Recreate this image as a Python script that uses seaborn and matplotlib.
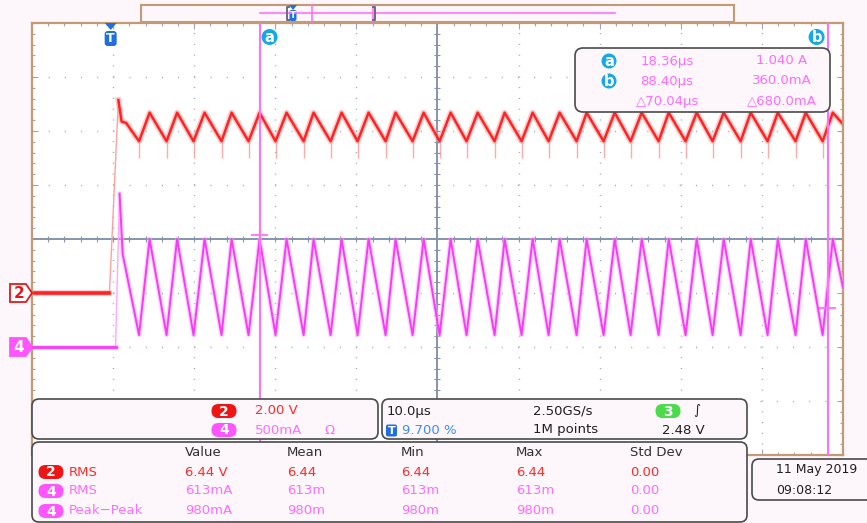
import matplotlib
matplotlib.use("Agg")
import pandas as pd
import matplotlib.pyplot as plt
import seaborn as sns
from matplotlib.patches import FancyBboxPatch, Rectangle, Polygon, Circle

plt.rcParams['font.family'] = ['DejaVu Sans']
plt.rcParams['lines.scale_dashes'] = False

# screen window, µs (10 µs/div, trigger at 9.7 % of the record)
t_left = -9.7
t_right = 90.3

# ripple corners, µs
peak_t = [4.80, 8.19, 11.58, 14.91, 18.36, 21.69, 25.02, 28.47, 31.80, 35.13,
          38.59, 41.92, 45.25, 48.58, 52.03, 55.36, 58.69, 62.15, 65.48, 68.81,
          72.26, 75.59, 78.92, 82.26, 85.71, 89.04]
valley_t = [3.50, 6.89, 10.22, 13.67, 17.00, 20.33, 23.79, 27.12, 30.45, 33.90,
            37.23, 40.56, 43.88, 47.34, 50.67, 54.00, 57.45, 60.78, 64.11, 67.56,
            70.89, 74.22, 77.68, 81.00, 84.45, 87.79]

# channel 2 (V, 2.00 V/div)
ch2_start_t = [-9.7, -0.15, 0.95, 1.35, 1.9]
ch2_start_v = [0.0, 0.0, 7.15, 6.35, 6.30]
ch2_peak_v = 6.68
ch2_valley_v = 5.62
ch2_spike_v = 5.0
ch2_end_v = 6.25

# channel 4 (A, 500 mA/div)
ch4_start_t = [-9.7, 0.6, 1.1, 1.48]
ch4_start_a = [0.0, 0.0, 1.42, 0.86]
ch4_peak_a = 1.0
ch4_valley_a = 0.11
ch4_end_a = 0.55

# cursors
cursor_t = [18.36, 88.40]
cursor_a = [1.040, 0.360]

meas_head = ['Value', 'Mean', 'Min', 'Max', 'Std Dev']
meas_rows = [
    ('2', 'RMS', ['6.44 V', '6.44', '6.44', '6.44', '0.00']),
    ('4', 'RMS', ['613mA', '613m', '613m', '613m', '0.00']),
    ('4', 'Peak\u2212Peak', ['980mA', '980m', '980m', '980m', '0.00']),
]

BG = '#fdf6fa'
TAN = '#c49a74'
GRID = '#9aa6bf'
AXC = '#8694ad'
RED = '#ff2424'
RED_HALO = '#ffa0a0'
MAG = '#f63cf6'
MAG_HALO = '#ffa6ff'
CUR = '#ff70ff'
CYAN = '#12a9e6'
CH2_TXT = '#ff2a2a'
CH4_TXT = '#ff6cff'


def trace(start_t, start_y, peak_y, valley_y, end_y):
    ts = list(start_t)
    ys = list(start_y)
    for tv, tp in zip(valley_t, peak_t):
        ts += [tv, tp]
        ys += [valley_y, peak_y]
    ts.append(t_right)
    ys.append(end_y)
    return pd.DataFrame({'t': ts, 'y': ys})


ch2 = trace(ch2_start_t, ch2_start_v, ch2_peak_v, ch2_valley_v, ch2_end_v)
ch4 = trace(ch4_start_t, ch4_start_a, ch4_peak_a, ch4_valley_a, ch4_end_a)

W, H = 867, 523
fig = plt.figure(figsize=(W / 100, H / 100), dpi=100, facecolor=BG)
ax = fig.add_axes([32 / W, (H - 455) / H, 811 / W, 432 / H])
ax.set_facecolor('white')
ax_a = ax.twinx()


def draw_trace(df, axis, core, halo, core_lw, halo_lw, base_lw):
    # flat part (noisy band), fast faint edge, then the ripple
    base, edge, rest = df.iloc[:2], df.iloc[1:3], df.iloc[2:]
    sns.lineplot(data=edge, x='t', y='y', ax=axis, color=halo, lw=1.0,
                 estimator=None, sort=False)
    sns.lineplot(data=base, x='t', y='y', ax=axis, color=halo, lw=base_lw + 1.5,
                 alpha=0.6, estimator=None, sort=False)
    sns.lineplot(data=base, x='t', y='y', ax=axis, color=core, lw=base_lw,
                 estimator=None, sort=False)
    sns.lineplot(data=rest, x='t', y='y', ax=axis, color=halo, lw=halo_lw,
                 alpha=0.55, estimator=None, sort=False)
    sns.lineplot(data=rest, x='t', y='y', ax=axis, color=core, lw=core_lw,
                 estimator=None, sort=False)


ax.vlines(valley_t, ch2_spike_v, ch2_valley_v, color=RED_HALO, lw=1.0, alpha=0.9)
draw_trace(ch2, ax, RED, RED_HALO, 1.8, 4.2, 2.6)
draw_trace(ch4, ax_a, MAG, MAG_HALO, 1.4, 3.2, 2.0)

ax.set_xlim(t_left, t_right)
ax.set_ylim(-6, 10)
ax_a.set_ylim(-1, 3)
for a in (ax, ax_a):
    a.set_xlabel('')
    a.set_ylabel('')

# graticule
ax.set_xticks([t_left + 10 * k for k in range(11)])
ax.set_xticks([t_left + 2 * k for k in range(51)], minor=True)
ax.set_yticks(range(-6, 11, 2))
ax.set_yticks([-6 + 0.4 * k for k in range(41)], minor=True)
ax.tick_params(which='both', direction='in', top=True, right=True, left=True,
               bottom=True, labelleft=False, labelbottom=False, color=GRID,
               width=0.8)
ax.tick_params(which='major', length=4)
ax.tick_params(which='minor', length=2.5)
ax.xaxis.grid(True, which='major', color=GRID, lw=1.0, linestyle=(0, (0.75, 7.03)))
ax.yaxis.grid(True, which='major', color=GRID, lw=1.0, linestyle=(0, (0.75, 10.9)))
ax.set_axisbelow(True)
t_mid = (t_left + t_right) / 2
ax.axhline(2, color=AXC, lw=1.4, zorder=1)
ax.axvline(t_mid, color=AXC, lw=1.4, zorder=1)
ax.plot([t_left + 2 * k for k in range(51)], [2] * 51, '|', ms=5, color=AXC, mew=0.8)
ax.plot([t_mid] * 41, [-6 + 0.4 * k for k in range(41)], '_', ms=5, color=AXC, mew=0.8)
for s in ax.spines.values():
    s.set_color(TAN)
    s.set_linewidth(1.6)
for s in ax_a.spines.values():
    s.set_visible(False)
ax_a.set_yticks([])

# cursors
for tc, ac in zip(cursor_t, cursor_a):
    ax_a.axvline(tc, color=CUR, lw=1.5, zorder=5)
    ax_a.hlines(ac, tc - 1.0, tc + 1.0, color=CUR, lw=1.3, zorder=5)

# overlay in pixel units for the scope furniture
ov = fig.add_axes([0, 0, 1, 1], zorder=5)
ov.set_xlim(0, W)
ov.set_ylim(H, 0)
ov.axis('off')
ov.patch.set_alpha(0)


def to_px(axis, x, y):
    dx, dy = axis.transData.transform((x, y))
    return dx, H - dy


def circle_label(x, y, letter, r=8):
    ov.add_patch(Circle((x, y), r, fc=CYAN, ec='none'))
    ov.text(x, y + 0.5, letter, color='white', ha='center', va='center',
            fontsize=10.5, fontweight='bold')


def pill(x, y, label, color, w=25, h=14):
    ov.add_patch(FancyBboxPatch((x - w / 2, y - h / 2), w, h,
                                boxstyle=f'round,pad=0,rounding_size={h / 2}',
                                fc=color, ec='none'))
    ov.text(x, y + 0.5, label, color='white', ha='center', va='center',
            fontsize=10, fontweight='bold')


def panel(x, y, w, h, r=7):
    ov.add_patch(FancyBboxPatch((x, y), w, h, boxstyle=f'round,pad=0,rounding_size={r}',
                                fc=BG, ec='#4a4a4a', lw=1.2))


# cursor tags and trigger marker
for tc, letter, dx in zip(cursor_t, ['a', 'b'], [10, -11]):
    px, _ = to_px(ax, tc, 0)
    circle_label(px + dx, 37, letter)
tx, _ = to_px(ax, 0, 0)
ov.add_patch(Polygon([(tx - 6, 23), (tx + 6, 23), (tx, 30)], fc='#1f6fe0', ec='none'))
ov.add_patch(FancyBboxPatch((tx - 6, 31), 12, 15, boxstyle='round,pad=0,rounding_size=3',
                            fc='#1f6fe0', ec='none'))
ov.text(tx, 39, 'T', color='white', ha='center', va='center', fontsize=9, fontweight='bold')

# channel ground markers
for axis, txt, fill, edge, tcol in [(ax, '2', 'white', '#e81818', '#e81818'),
                                     (ax_a, '4', '#ff55ff', '#ff55ff', 'white')]:
    _, gy = to_px(axis, t_left, 0)
    ov.add_patch(Polygon([(10, gy - 9), (26, gy - 9), (32, gy), (26, gy + 9), (10, gy + 9)],
                         fc=fill, ec=edge, lw=1.3))
    ov.text(19, gy + 0.5, txt, color=tcol, ha='center', va='center', fontsize=11,
            fontweight='bold')

# record overview bar
ov.add_patch(Rectangle((141, 5), 593, 17, fc=BG, ec=TAN, lw=1.5))
ov.plot([260, 615], [13, 13], color=CUR, lw=1.2)
ov.plot([311.5, 311.5], [5, 22], color=CUR, lw=1.2)
ov.plot([372.5, 372.5], [5, 22], color=CUR, lw=1.2)
ov.plot([289, 287, 287, 289], [7, 7, 20, 20], color='#6a6a7a', lw=1.4)
ov.plot([373, 375, 375, 373], [7, 7, 20, 20], color='#6a6a7a', lw=1.4)
ov.add_patch(Polygon([(289, 5), (297, 5), (293, 10)], fc='#1f6fe0', ec='none'))
ov.add_patch(FancyBboxPatch((289.5, 10), 7, 11, boxstyle='round,pad=0,rounding_size=2',
                            fc='#1f6fe0', ec='none'))
ov.text(293, 15.5, 'T', color='white', ha='center', va='center', fontsize=6.5,
        fontweight='bold')

# cursor readout
panel(575, 48, 255, 64, r=8)
circle_label(609, 61, 'a', r=7.5)
circle_label(609, 81, 'b', r=7.5)
fs = 9.5
ov.text(667, 61, f'{cursor_t[0]:.2f}\u00b5s', color=CH4_TXT, ha='center', va='center', fontsize=fs)
ov.text(667, 81, f'{cursor_t[1]:.2f}\u00b5s', color=CH4_TXT, ha='center', va='center', fontsize=fs)
ov.text(668, 101, f'\u25b3{cursor_t[1] - cursor_t[0]:.2f}\u00b5s', color=CH4_TXT,
        ha='center', va='center', fontsize=fs)
ov.text(782, 61, '1.040 A', color=CH4_TXT, ha='center', va='center', fontsize=fs)
ov.text(782, 81, '360.0mA', color=CH4_TXT, ha='center', va='center', fontsize=fs)
ov.text(782, 101, '\u25b3680.0mA', color=CH4_TXT, ha='center', va='center', fontsize=fs)

# vertical settings panel
panel(32, 399, 346, 40)
pill(224, 411, '2', '#ee1515')
pill(224, 430, '4', '#ff55ff')
ov.text(255, 411, '2.00 V', color=CH2_TXT, ha='left', va='center', fontsize=fs)
ov.text(255, 430, '500mA', color=CH4_TXT, ha='left', va='center', fontsize=fs)
ov.text(330, 430, '\u03a9', color=CH4_TXT, ha='center', va='center', fontsize=fs)

# horizontal / trigger panel
panel(382, 399, 365, 40)
ov.text(387, 411, '10.0\u00b5s', color='#202020', ha='left', va='center', fontsize=fs)
ov.add_patch(FancyBboxPatch((386, 424.5), 11, 12, boxstyle='round,pad=0,rounding_size=2',
                            fc='#1f6fe0', ec='none'))
ov.text(391.5, 431, 'T', color='white', ha='center', va='center', fontsize=8, fontweight='bold')
ov.text(402, 430, '9.700 %', color='#3a8ff0', ha='left', va='center', fontsize=fs)
ov.text(533, 411, '2.50GS/s', color='#202020', ha='left', va='center', fontsize=fs)
ov.text(533, 430, '1M points', color='#202020', ha='left', va='center', fontsize=fs)
pill(668, 411, '3', '#4bdc4b')
ov.text(697, 411, '\u222b', color='#202020', ha='center', va='center', fontsize=fs)
ov.text(662, 430, '2.48 V', color='#202020', ha='left', va='center', fontsize=fs)

# measurement table
panel(32, 442, 715, 80)
col_x = [185, 287, 401, 516, 630]
for cx, head in zip(col_x, meas_head):
    ov.text(cx, 453, head, color='#303030', ha='left', va='center', fontsize=fs)
for ry, (ch, name, vals) in zip([472, 491, 511], meas_rows):
    col = CH2_TXT if ch == '2' else CH4_TXT
    pill(51, ry, ch, '#ee1515' if ch == '2' else '#ff55ff')
    ov.text(69, ry, name, color=col, ha='left', va='center', fontsize=fs)
    for cx, v in zip(col_x, vals):
        ov.text(cx, ry, v, color=col, ha='left', va='center', fontsize=fs)

# date panel
panel(752, 459, 130, 41)
ov.text(776, 470, '11 May 2019', color='#202020', ha='left', va='center', fontsize=9)
ov.text(776, 490, '09:08:12', color='#202020', ha='left', va='center', fontsize=9)

fig.savefig('out.png', dpi=100, facecolor=BG)
